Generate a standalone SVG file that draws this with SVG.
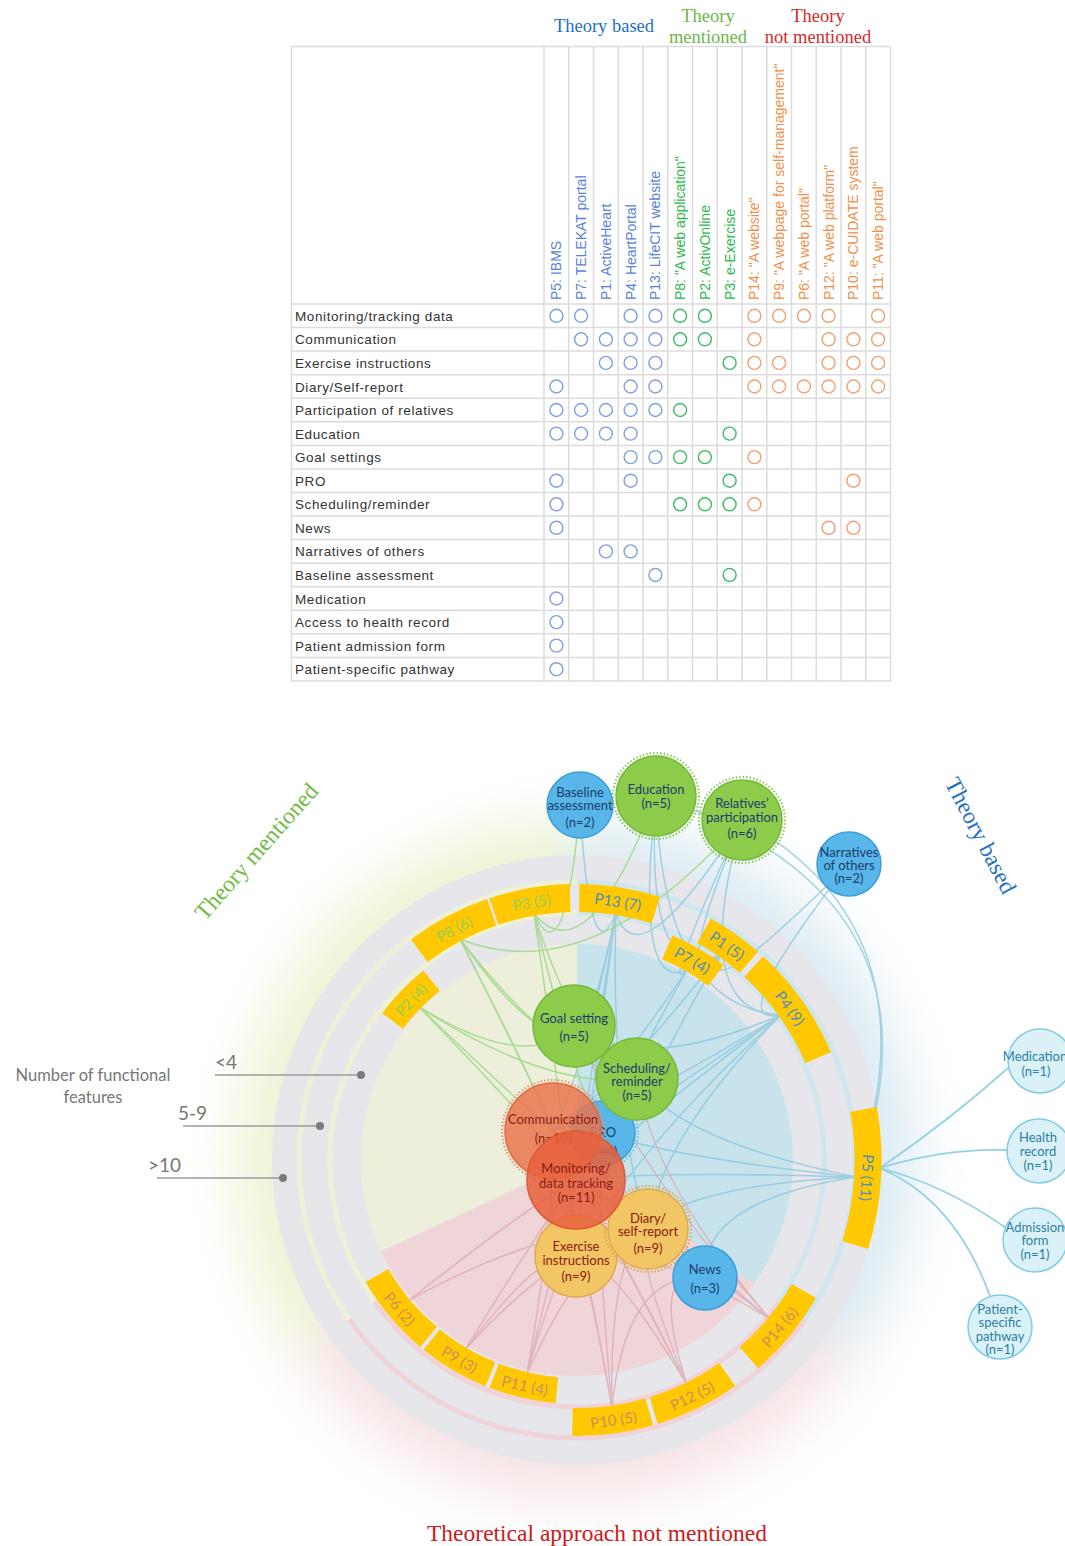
<svg xmlns="http://www.w3.org/2000/svg" width="1065" height="1546" viewBox="0 0 1065 1546">
<defs>
<style>
.grid{stroke:#dcdcdc;stroke-width:1.5;fill:none}
.rl{font-family:"Liberation Sans",Arial,sans-serif;font-size:13.5px;fill:#333;letter-spacing:0.6px}
.cl{font-family:"Liberation Sans",Arial,sans-serif;font-size:14px}
.cbl{fill:#5a82d8}.cgr{fill:#2cb84c}.cor{fill:#f0904c}
.ob{fill:none;stroke:#7fa0e0;stroke-width:1.4}
.og{fill:none;stroke:#3dbd6a;stroke-width:1.4}
.oo{fill:none;stroke:#f3a072;stroke-width:1.4}
.hd{font-family:"Liberation Serif","Times New Roman",serif;font-size:18.5px;text-anchor:middle}
.bar{fill:none;stroke:#ffc800}
.bm{stroke-width:28}.bi{stroke-width:26}.bo{stroke-width:27}
.lb{font-family:Lato,"Open Sans",sans-serif;font-size:15px;text-anchor:middle;dominant-baseline:central}
.lbb{fill:#4d8fbf}.lbg{fill:#92cf5c}.lbo{fill:#c9905e}
.cb{fill:none;stroke:#86c6dc;stroke-width:1.5;opacity:.75}
.cg{fill:none;stroke:#98d880;stroke-width:1.5;opacity:.8}
.cp{fill:none;stroke:#dba9b3;stroke-width:1.5;opacity:.75}
.ce{fill:none;stroke:#8ccde0;stroke-width:1.8;opacity:.9}
.nb{fill:#58b6e8;stroke:#3b9fd8;stroke-width:1.5}
.ng{fill:#8dcb4b;stroke:#74b83a;stroke-width:1.5}
.ny{fill:#f2c565;stroke:#e0a94a;stroke-width:1.5}
.nc{fill:#daf1f8;stroke:#80cde2;stroke-width:1.5}
.dot{fill:none;stroke-width:2.2;stroke-dasharray:1.3 2.2}
.nt{font-family:Lato,"Liberation Sans",sans-serif;font-size:13px;text-anchor:middle}
.tn{fill:#1e3c6e}.tr{fill:#8b1c12}.tc{fill:#2c7fa3}
.lg{font-family:Lato,"Liberation Sans",sans-serif;fill:#777}
.ll{stroke:#9a9a9a;stroke-width:1.5}
.big{font-family:"Liberation Serif","Times New Roman",serif;font-size:23.5px;text-anchor:middle}
</style>
<filter id="blur" x="-40%" y="-40%" width="180%" height="180%"><feGaussianBlur stdDeviation="28"/></filter>
</defs>
<rect width="1065" height="1546" fill="#ffffff"/>

<!-- TABLE -->
<g id="table">
<text class="hd" x="604" y="32" fill="#1f6fc5">Theory based</text>
<text class="hd" x="708" y="22" fill="#6cb84a">Theory</text>
<text class="hd" x="708" y="43" fill="#6cb84a">mentioned</text>
<text class="hd" x="818" y="22" fill="#d42a2a">Theory</text>
<text class="hd" x="818" y="43" fill="#d42a2a">not mentioned</text>
<rect x="291.5" y="46.5" width="599" height="634.5" fill="#fff" class="grid"/>
<path class="grid" d="M544,46V681M568.75,46V681M593.5,46V681M618.25,46V681M643,46V681M667.75,46V681M692.5,46V681M717.25,46V681M742,46V681M766.75,46V681M791.5,46V681M816.25,46V681M841,46V681M865.75,46V681"/>
<path class="grid" d="M291,304H891M291,327.6H891M291,351.1H891M291,374.7H891M291,398.2H891M291,421.8H891M291,445.4H891M291,468.9H891M291,492.5H891M291,516H891M291,539.6H891M291,563.2H891M291,586.7H891M291,610.3H891M291,633.8H891M291,657.4H891"/>
<g class="cl">
<text class="cbl" transform="translate(561.4,300) rotate(-90)">P5: IBMS</text>
<text class="cbl" transform="translate(586.1,300) rotate(-90)">P7: TELEKAT portal</text>
<text class="cbl" transform="translate(610.9,300) rotate(-90)">P1: ActiveHeart</text>
<text class="cbl" transform="translate(635.6,300) rotate(-90)">P4: HeartPortal</text>
<text class="cbl" transform="translate(660.4,300) rotate(-90)">P13: LifeCIT website</text>
<text class="cgr" transform="translate(685.1,300) rotate(-90)">P8: "A web application"</text>
<text class="cgr" transform="translate(709.9,300) rotate(-90)">P2: ActivOnline</text>
<text class="cgr" transform="translate(734.6,300) rotate(-90)">P3: e-Exercise</text>
<text class="cor" transform="translate(759.4,300) rotate(-90)">P14: "A website"</text>
<text class="cor" transform="translate(784.1,300) rotate(-90)">P9: "A webpage for self-management"</text>
<text class="cor" transform="translate(808.9,300) rotate(-90)">P6: "A web portal"</text>
<text class="cor" transform="translate(833.6,300) rotate(-90)">P12: "A web platform"</text>
<text class="cor" transform="translate(858.4,300) rotate(-90)">P10: e-CUIDATE system</text>
<text class="cor" transform="translate(883.1,300) rotate(-90)">P11: "A web portal"</text>
</g>
<g class="rl">
<text x="295" y="320.8">Monitoring/tracking data</text>
<text x="295" y="344.3">Communication</text>
<text x="295" y="367.9">Exercise instructions</text>
<text x="295" y="391.5">Diary/Self-report</text>
<text x="295" y="415">Participation of relatives</text>
<text x="295" y="438.6">Education</text>
<text x="295" y="462.1">Goal settings</text>
<text x="295" y="485.7">PRO</text>
<text x="295" y="509.3">Scheduling/reminder</text>
<text x="295" y="532.8">News</text>
<text x="295" y="556.4">Narratives of others</text>
<text x="295" y="580">Baseline assessment</text>
<text x="295" y="603.5">Medication</text>
<text x="295" y="627.1">Access to health record</text>
<text x="295" y="650.6">Patient admission form</text>
<text x="295" y="674.2">Patient-specific pathway</text>
</g>
<g class="ob">
<circle cx="556.4" cy="315.8" r="6.5"/><circle cx="581.1" cy="315.8" r="6.5"/><circle cx="630.6" cy="315.8" r="6.5"/><circle cx="655.4" cy="315.8" r="6.5"/>
<circle cx="581.1" cy="339.3" r="6.5"/><circle cx="605.9" cy="339.3" r="6.5"/><circle cx="630.6" cy="339.3" r="6.5"/><circle cx="655.4" cy="339.3" r="6.5"/>
<circle cx="605.9" cy="362.9" r="6.5"/><circle cx="630.6" cy="362.9" r="6.5"/><circle cx="655.4" cy="362.9" r="6.5"/>
<circle cx="556.4" cy="386.5" r="6.5"/><circle cx="630.6" cy="386.5" r="6.5"/><circle cx="655.4" cy="386.5" r="6.5"/>
<circle cx="556.4" cy="410" r="6.5"/><circle cx="581.1" cy="410" r="6.5"/><circle cx="605.9" cy="410" r="6.5"/><circle cx="630.6" cy="410" r="6.5"/><circle cx="655.4" cy="410" r="6.5"/>
<circle cx="556.4" cy="433.6" r="6.5"/><circle cx="581.1" cy="433.6" r="6.5"/><circle cx="605.9" cy="433.6" r="6.5"/><circle cx="630.6" cy="433.6" r="6.5"/>
<circle cx="630.6" cy="457.1" r="6.5"/><circle cx="655.4" cy="457.1" r="6.5"/>
<circle cx="556.4" cy="480.7" r="6.5"/><circle cx="630.6" cy="480.7" r="6.5"/>
<circle cx="556.4" cy="504.3" r="6.5"/>
<circle cx="556.4" cy="527.8" r="6.5"/>
<circle cx="605.9" cy="551.4" r="6.5"/><circle cx="630.6" cy="551.4" r="6.5"/>
<circle cx="655.4" cy="575" r="6.5"/>
<circle cx="556.4" cy="598.5" r="6.5"/><circle cx="556.4" cy="622.1" r="6.5"/><circle cx="556.4" cy="645.6" r="6.5"/><circle cx="556.4" cy="669.2" r="6.5"/>
</g>
<g class="og">
<circle cx="680.1" cy="315.8" r="6.5"/><circle cx="704.9" cy="315.8" r="6.5"/>
<circle cx="680.1" cy="339.3" r="6.5"/><circle cx="704.9" cy="339.3" r="6.5"/>
<circle cx="729.6" cy="362.9" r="6.5"/>
<circle cx="680.1" cy="410" r="6.5"/>
<circle cx="729.6" cy="433.6" r="6.5"/>
<circle cx="680.1" cy="457.1" r="6.5"/><circle cx="704.9" cy="457.1" r="6.5"/>
<circle cx="729.6" cy="480.7" r="6.5"/>
<circle cx="680.1" cy="504.3" r="6.5"/><circle cx="704.9" cy="504.3" r="6.5"/><circle cx="729.6" cy="504.3" r="6.5"/>
<circle cx="729.6" cy="575" r="6.5"/>
</g>
<g class="oo">
<circle cx="754.4" cy="315.8" r="6.5"/><circle cx="779.1" cy="315.8" r="6.5"/><circle cx="803.9" cy="315.8" r="6.5"/><circle cx="828.6" cy="315.8" r="6.5"/><circle cx="878.1" cy="315.8" r="6.5"/>
<circle cx="754.4" cy="339.3" r="6.5"/><circle cx="828.6" cy="339.3" r="6.5"/><circle cx="853.4" cy="339.3" r="6.5"/><circle cx="878.1" cy="339.3" r="6.5"/>
<circle cx="754.4" cy="362.9" r="6.5"/><circle cx="779.1" cy="362.9" r="6.5"/><circle cx="828.6" cy="362.9" r="6.5"/><circle cx="853.4" cy="362.9" r="6.5"/><circle cx="878.1" cy="362.9" r="6.5"/>
<circle cx="754.4" cy="386.5" r="6.5"/><circle cx="779.1" cy="386.5" r="6.5"/><circle cx="803.9" cy="386.5" r="6.5"/><circle cx="828.6" cy="386.5" r="6.5"/><circle cx="853.4" cy="386.5" r="6.5"/><circle cx="878.1" cy="386.5" r="6.5"/>
<circle cx="754.4" cy="457.1" r="6.5"/>
<circle cx="853.4" cy="480.7" r="6.5"/>
<circle cx="754.4" cy="504.3" r="6.5"/>
<circle cx="828.6" cy="527.8" r="6.5"/><circle cx="853.4" cy="527.8" r="6.5"/>
</g>
</g>

<!-- CHORD DIAGRAM BACKGROUND -->
<g id="background">
<g filter="url(#blur)">
<path d="M577,1160L577,820A340,340 0 0 1 855.5,1355Z" fill="#dcebf3"/>
<path d="M577,1160L855.5,1355A340,340 0 0 1 298.5,1355Z" fill="#f6e3e5"/>
<path d="M577,1160L298.5,1355A340,340 0 0 1 577,820Z" fill="#eef3d4"/>
</g>
<circle cx="577" cy="1160" r="305" fill="#e7e7eb"/>
<g fill="none" stroke-width="5">
<circle cx="577" cy="1160" r="247" stroke="#cfe6ef" transform="rotate(-90 577 1160)" stroke-dasharray="538.9 3000"/>
<circle cx="577" cy="1160" r="278" stroke="#cfe6ef" transform="rotate(-90 577 1160)" stroke-dasharray="606.5 3000"/>
<circle cx="577" cy="1160" r="247" stroke="#efd3d8" transform="rotate(35 577 1160)" stroke-dasharray="474.2 3000"/>
<circle cx="577" cy="1160" r="278" stroke="#efd3d8" transform="rotate(35 577 1160)" stroke-dasharray="533.7 3000"/>
<circle cx="577" cy="1160" r="247" stroke="#eef1d6" transform="rotate(145 577 1160)" stroke-dasharray="538.9 3000"/>
<circle cx="577" cy="1160" r="278" stroke="#eef1d6" transform="rotate(145 577 1160)" stroke-dasharray="606.5 3000"/>
</g>
<path d="M577,1160L577,944A216,216 0 0 1 753.9,1283.9Z" fill="#c8e3ec"/>
<path d="M577,1160L753.9,1283.9A216,216 0 0 1 381.2,1251.3Z" fill="#efd4d8"/>
<path d="M577,1160L381.2,1251.3A216,216 0 0 1 577,944Z" fill="#edefdb"/>
</g>

<!-- CONNECTORS -->
<g id="connectors">
<g class="cb">
<path d="M856,1177Q660,1171 576,1180"/>
<path d="M856,1177Q682,1186 648,1229"/>
<path d="M856,1177Q940,930 742,820"/>
<path d="M856,1177Q960,900 656,796"/>
<path d="M856,1177Q669,1157 603,1133"/>
<path d="M856,1177Q679,1141 637,1079"/>
<path d="M856,1177Q699,1201 705,1278"/>
<path d="M687,970Q610,1109 576,1180"/>
<path d="M687,970Q603,1094 553,1131"/>
<path d="M687,970Q659,1001 742,820"/>
<path d="M687,970Q634,994 656,796"/>
<path d="M720,955Q613,1090 553,1131"/>
<path d="M720,955Q620,1127 576,1256"/>
<path d="M720,955Q669,997 742,820"/>
<path d="M720,955Q644,989 656,796"/>
<path d="M720,955Q702,1010 849,864"/>
<path d="M781,1015Q638,1122 576,1180"/>
<path d="M781,1015Q631,1108 553,1131"/>
<path d="M781,1015Q638,1145 576,1256"/>
<path d="M781,1015Q660,1137 648,1229"/>
<path d="M781,1015Q688,1014 742,820"/>
<path d="M781,1015Q662,1007 656,796"/>
<path d="M781,1015Q637,1076 574,1026"/>
<path d="M781,1015Q646,1108 603,1133"/>
<path d="M781,1015Q720,1028 849,864"/>
<path d="M616,913Q588,1092 576,1180"/>
<path d="M616,913Q582,1077 553,1131"/>
<path d="M616,913Q588,1115 576,1256"/>
<path d="M616,913Q610,1107 648,1229"/>
<path d="M616,913Q638,984 742,820"/>
<path d="M616,913Q588,1046 574,1026"/>
<path d="M616,913Q590,979 580,805"/>
</g>
<g class="ce">
<path d="M880,1168Q950,1120 1008,1068"/>
<path d="M880,1168Q945,1148 1007,1150"/>
<path d="M880,1168Q945,1185 1006,1228"/>
<path d="M880,1168Q955,1200 990,1296"/>
</g>
<g class="cg">
<path d="M460,939Q542,1100 576,1180"/>
<path d="M460,939Q535,1085 553,1131"/>
<path d="M460,939Q591,992 742,820"/>
<path d="M460,939Q541,1054 574,1026"/>
<path d="M460,939Q560,1069 637,1079"/>
<path d="M419,1007Q529,1120 576,1180"/>
<path d="M419,1007Q522,1105 553,1131"/>
<path d="M419,1007Q529,1074 574,1026"/>
<path d="M419,1007Q548,1090 637,1079"/>
<path d="M534,914Q564,1115 576,1256"/>
<path d="M534,914Q588,977 656,796"/>
<path d="M534,914Q572,1078 603,1133"/>
<path d="M534,914Q582,1062 637,1079"/>
<path d="M534,914Q565,980 580,805"/>
</g>
<g class="cp">
<path d="M770,1319Q635,1214 576,1180"/>
<path d="M770,1319Q628,1199 553,1131"/>
<path d="M770,1319Q635,1237 576,1256"/>
<path d="M770,1319Q656,1228 648,1229"/>
<path d="M770,1319Q634,1168 574,1026"/>
<path d="M770,1319Q653,1183 637,1079"/>
<path d="M465,1350Q543,1223 576,1180"/>
<path d="M465,1350Q543,1246 576,1256"/>
<path d="M465,1350Q565,1238 648,1229"/>
<path d="M408,1301Q526,1208 576,1180"/>
<path d="M408,1301Q548,1223 648,1229"/>
<path d="M687,1385Q610,1234 576,1180"/>
<path d="M687,1385Q603,1219 553,1131"/>
<path d="M687,1385Q610,1256 576,1256"/>
<path d="M687,1385Q631,1248 648,1229"/>
<path d="M687,1385Q648,1263 705,1278"/>
<path d="M612,1408Q580,1226 553,1131"/>
<path d="M612,1408Q587,1263 576,1256"/>
<path d="M612,1408Q609,1255 648,1229"/>
<path d="M612,1408Q595,1226 603,1133"/>
<path d="M612,1408Q626,1270 705,1278"/>
<path d="M527,1374Q562,1230 576,1180"/>
<path d="M527,1374Q555,1216 553,1131"/>
<path d="M527,1374Q562,1253 576,1256"/>
<path d="M527,1374Q583,1245 648,1229"/>
</g>
</g>

<!-- PROJECT SEGMENTS -->
<g id="segments">
<g id="seg-P13"><circle class="bar bm" cx="577" cy="1160" r="262" transform="rotate(-89.5 577 1160)" stroke-dasharray="77.7 3000"/><text class="lb lbb" transform="translate(618,901.2) rotate(9)">P13 (7)</text></g>
<g id="seg-P7"><circle class="bar bi" cx="577" cy="1160" r="231" transform="rotate(-67 577 1160)" stroke-dasharray="56.4 3000"/><text class="lb lbb" transform="translate(692.5,960) rotate(30)">P7 (4)</text></g>
<g id="seg-P1"><circle class="bar bm" cx="577" cy="1160" r="262" transform="rotate(-61 577 1160)" stroke-dasharray="54.9 3000"/><text class="lb lbb" transform="translate(727.3,945.4) rotate(35)">P1 (5)</text></g>
<g id="seg-P4"><circle class="bar bm" cx="577" cy="1160" r="262" transform="rotate(-47.6 577 1160)" stroke-dasharray="112.5 3000"/><text class="lb lbb" transform="translate(790.3,1007.9) rotate(54.5)">P4 (9)</text></g>
<g id="seg-P5"><circle class="bar bo" cx="577" cy="1160" r="291" transform="rotate(-10 577 1160)" stroke-dasharray="137.1 3000"/><text class="lb lbb" transform="translate(867.5,1177.8) rotate(93.5)">P5 (11)</text></g>
<g id="seg-P14"><circle class="bar bm" cx="577" cy="1160" r="262" transform="rotate(30 577 1160)" stroke-dasharray="86.9 3000"/><text class="lb lbo" transform="translate(779.2,1326.7) rotate(-50.5)">P14 (6)</text></g>
<g id="seg-P12"><circle class="bar bm" cx="577" cy="1160" r="262" transform="rotate(55 577 1160)" stroke-dasharray="82.3 3000"/><text class="lb lbo" transform="translate(691.9,1395.5) rotate(-26)">P12 (5)</text></g>
<g id="seg-P10"><circle class="bar bm" cx="577" cy="1160" r="262" transform="rotate(74 577 1160)" stroke-dasharray="77.7 3000"/><text class="lb lbo" transform="translate(613.5,1419.5) rotate(-8)">P10 (5)</text></g>
<g id="seg-P11"><circle class="bar bi" cx="577" cy="1160" r="231" transform="rotate(95 577 1160)" stroke-dasharray="64.5 3000"/><text class="lb lbo" transform="translate(525,1385.1) rotate(13)">P11 (4)</text></g>
<g id="seg-P9"><circle class="bar bi" cx="577" cy="1160" r="231" transform="rotate(112 577 1160)" stroke-dasharray="68.5 3000"/><text class="lb lbo" transform="translate(459.8,1359) rotate(30.5)">P9 (3)</text></g>
<g id="seg-P6"><circle class="bar bi" cx="577" cy="1160" r="231" transform="rotate(130 577 1160)" stroke-dasharray="80.6 3000"/><text class="lb lbo" transform="translate(400,1308.5) rotate(50)">P6 (2)</text></g>
<g id="seg-P2"><circle class="bar bi" cx="577" cy="1160" r="231" transform="rotate(217 577 1160)" stroke-dasharray="56.4 3000"/><text class="lb lbg" transform="translate(410.8,999.5) rotate(-46)">P2 (4)</text></g>
<g id="seg-P8"><circle class="bar bm" cx="577" cy="1160" r="262" transform="rotate(233 577 1160)" stroke-dasharray="82.3 3000"/><text class="lb lbg" transform="translate(454,928.7) rotate(-28)">P8 (6)</text></g>
<g id="seg-P3"><circle class="bar bm" cx="577" cy="1160" r="262" transform="rotate(251.5 577 1160)" stroke-dasharray="77.7 3000"/><text class="lb lbg" transform="translate(531.5,902) rotate(-10)">P3 (5)</text></g>
</g>

<!-- FEATURE NODES -->
<g id="node-baseline"><circle class="nb" cx="580" cy="805" r="33"/><text class="nt tn" x="580" y="797">Baseline</text><text class="nt tn" x="580" y="810">assessment</text><text class="nt tn" x="580" y="827">(n=2)</text></g>
<g id="node-education"><circle class="ng" cx="656" cy="796" r="40"/><circle class="dot" cx="656" cy="796" r="43" stroke="#86c34a"/><text class="nt tn" x="656" y="794">Education</text><text class="nt tn" x="656" y="808">(n=5)</text></g>
<g id="node-relatives"><circle class="ng" cx="742" cy="820" r="40"/><circle class="dot" cx="742" cy="820" r="43" stroke="#86c34a"/><text class="nt tn" x="742" y="808">Relatives’</text><text class="nt tn" x="742" y="822">participation</text><text class="nt tn" x="742" y="838">(n=6)</text></g>
<g id="node-narratives"><circle class="nb" cx="849" cy="864" r="32"/><text class="nt tn" x="849" y="857">Narratives</text><text class="nt tn" x="849" y="870">of others</text><text class="nt tn" x="849" y="883">(n=2)</text></g>
<g id="node-goal"><circle class="ng" cx="574" cy="1026" r="41"/><text class="nt tn" x="574" y="1023">Goal setting</text><text class="nt tn" x="574" y="1041">(n=5)</text></g>
<g id="node-pro"><circle class="nb" cx="603" cy="1133" r="32"/><circle class="dot" cx="603" cy="1133" r="35" stroke="#6cbce8"/><text class="nt tn" x="603" y="1137">PRO</text><text class="nt tn" x="603" y="1156">(n=4)</text></g>
<g id="node-scheduling"><circle class="ng" cx="637" cy="1079" r="41"/><text class="nt tn" x="637" y="1073">Scheduling/</text><text class="nt tn" x="637" y="1086">reminder</text><text class="nt tn" x="637" y="1100">(n=5)</text></g>
<g id="node-exercise"><circle class="ny" cx="576" cy="1256" r="41"/><text class="nt tr" x="576" y="1251">Exercise</text><text class="nt tr" x="576" y="1265">instructions</text><text class="nt tr" x="576" y="1281">(n=9)</text></g>
<g id="node-diary"><circle class="ny" cx="648" cy="1229" r="40"/><circle class="dot" cx="648" cy="1229" r="43" stroke="#dba650"/><text class="nt tr" x="648" y="1223">Diary/</text><text class="nt tr" x="648" y="1236">self-report</text><text class="nt tr" x="648" y="1253">(n=9)</text></g>
<g id="node-communication"><circle cx="553" cy="1131" r="48" fill="#e9754f" fill-opacity=".85" stroke="#e0683f" stroke-width="1.5"/><circle class="dot" cx="553" cy="1131" r="51" stroke="#e3927a"/><text class="nt tr" x="553" y="1124">Communication</text><text class="nt tr" x="553" y="1143">(n=10)</text></g>
<g id="node-monitoring"><circle cx="576" cy="1180" r="49" fill="#e8603c" fill-opacity=".85" stroke="#dd5a35" stroke-width="1.5"/><text class="nt tr" x="576" y="1173">Monitoring/</text><text class="nt tr" x="576" y="1188">data tracking</text><text class="nt tr" x="576" y="1202">(n=11)</text></g>
<g id="node-news"><circle class="nb" cx="705" cy="1278" r="32"/><text class="nt tn" x="705" y="1274">News</text><text class="nt tn" x="705" y="1293">(n=3)</text></g>
<g id="node-medication"><circle class="nc" cx="1040" cy="1061" r="32"/><text class="nt tc" x="1035" y="1061" font-size="11.5">Medication</text><text class="nt tc" x="1036" y="1076" font-size="12">(n=1)</text></g>
<g id="node-health"><circle class="nc" cx="1039" cy="1151" r="32"/><text class="nt tc" x="1038" y="1142" font-size="12">Health</text><text class="nt tc" x="1038" y="1156" font-size="12">record</text><text class="nt tc" x="1038" y="1170" font-size="12">(n=1)</text></g>
<g id="node-admission"><circle class="nc" cx="1035" cy="1240" r="32"/><text class="nt tc" x="1035" y="1232" font-size="12">Admission</text><text class="nt tc" x="1035" y="1245" font-size="12">form</text><text class="nt tc" x="1035" y="1259" font-size="12">(n=1)</text></g>
<g id="node-pathway"><circle class="nc" cx="1000" cy="1327" r="32"/><text class="nt tc" x="1000" y="1314" font-size="12">Patient-</text><text class="nt tc" x="1000" y="1327" font-size="12">specific</text><text class="nt tc" x="1000" y="1341" font-size="12">pathway</text><text class="nt tc" x="1000" y="1354" font-size="12">(n=1)</text></g>

<!-- LEGEND AND TITLES -->
<g id="legend">
<text class="lg" x="93" y="1081" font-size="16.5" text-anchor="middle">Number of functional</text>
<text class="lg" x="93" y="1103" font-size="16.5" text-anchor="middle">features</text>
<text class="lg" x="215" y="1069" font-size="19">&lt;4</text>
<text class="lg" x="178" y="1120" font-size="19">5-9</text>
<text class="lg" x="148" y="1172" font-size="19">&gt;10</text>
<line class="ll" x1="215" y1="1075" x2="361" y2="1075"/>
<line class="ll" x1="183" y1="1126" x2="320" y2="1126"/>
<line class="ll" x1="157" y1="1178" x2="283" y2="1178"/>
<circle cx="361" cy="1075" r="4" fill="#7a7a7a"/>
<circle cx="320" cy="1126" r="4" fill="#7a7a7a"/>
<circle cx="283" cy="1178" r="4" fill="#7a7a7a"/>
</g>
<text class="big" transform="translate(257,852) rotate(-48.5)" y="7" fill="#6fba45" font-size="23">Theory mentioned</text>
<text class="big" transform="translate(980,836) rotate(62.4)" y="7" fill="#1f6fc5" font-size="23">Theory based</text>
<text class="big" x="597" y="1541" fill="#cc1a1a">Theoretical approach not mentioned</text>
</svg>
